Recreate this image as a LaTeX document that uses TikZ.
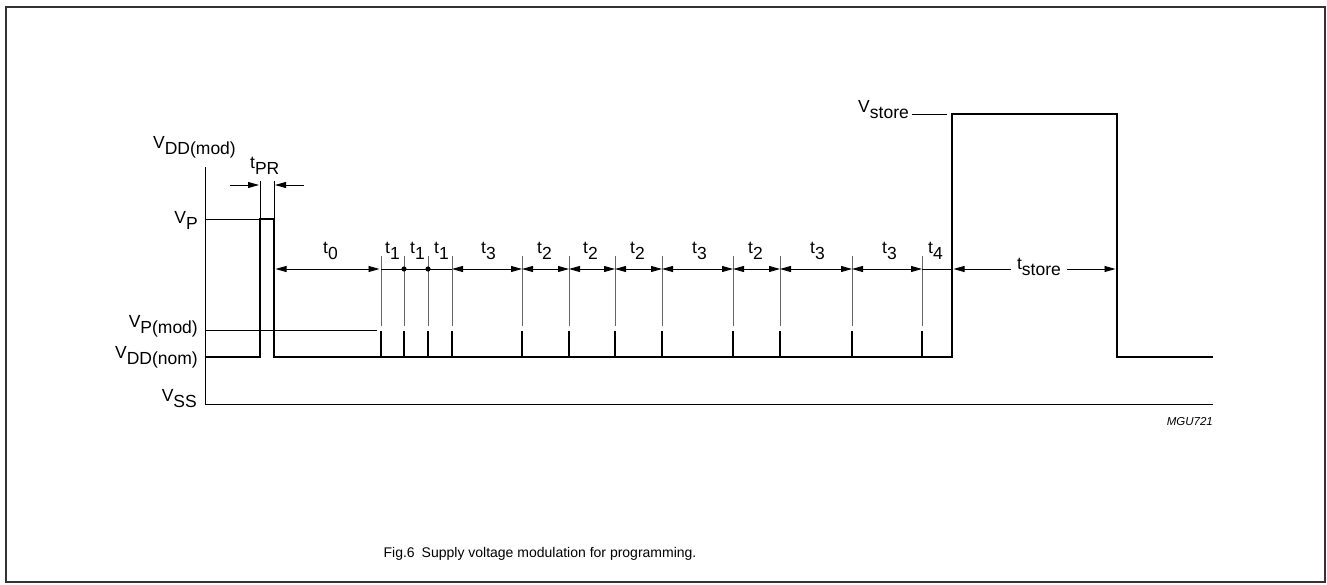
\documentclass[tikz,border=0pt]{standalone}
\usepackage{fontspec}
\setmainfont{Liberation Sans}
\usetikzlibrary{arrows.meta}
\newcommand{\lowsub}[2]{#1\raisebox{-6.5pt}{#2}}

\begin{document}
\begin{tikzpicture}[x=1pt,y=-1pt,font=\fontsize{17.5}{20}\selectfont,
	signal/.style={line width=2.8pt},
	guide/.style={line width=0.9pt},
	extline/.style={line width=0.8pt,black!60},
	span/.style={line width=0.9pt,{Triangle[length=11pt,width=6pt]}-{Triangle[length=11pt,width=6pt]}},
	tip/.style={line width=0.9pt,-{Triangle[length=11pt,width=6pt]}}]
	\useasboundingbox (0,0) rectangle (1327,584);
	%frame
	\draw[line width=2pt,black!80] (6,7) rectangle (1325,582);

	%axis and levels
	\draw[guide] (205,167) -- (205,404) -- (1213,404); %VSS
	\draw[guide] (205,219) -- (260,219); %VP
	\draw[guide] (205,330) -- (377,330); %VP(mod)
	\draw[guide] (912,114) -- (947,114); %Vstore

	%supply voltage
	\draw[signal] (205,357) -- (260,357) -- (260,219) -- (274,219) -- (274,357) -- (952,357) -- (952,114) -- (1117,114) -- (1117,357) -- (1213,357);
	\foreach \x in {381,404,428,452,522,569,615,662,733,780,852,922}{
		\draw[signal] (\x,357) -- (\x,331); %modulation pulse
		\draw[extline] (\x,326) -- (\x,256);
	}

	%tPR
	\draw[guide] (260,181) -- (260,218);
	\draw[guide] (274,181) -- (274,218);
	\draw[tip] (230,185) -- (259,185);
	\draw[tip] (304,185) -- (275,185);

	%time intervals
	\draw[span] (275.5,269) -- (379.5,269); %t0
	\draw[guide] (381,269) -- (452,269); %t1
	\fill (404,269) circle (2.6pt) (428,269) circle (2.6pt);
	\draw[span] (452,269) -- (522,269); %t3
	\draw[span] (522,269) -- (569,269); %t2
	\draw[span] (569,269) -- (615,269); %t2
	\draw[span] (615,269) -- (662,269); %t2
	\draw[span] (662,269) -- (733,269); %t3
	\draw[span] (733,269) -- (780,269); %t2
	\draw[span] (780,269) -- (852,269); %t3
	\draw[span] (852,269) -- (922,269); %t3
	\draw[guide] (922,269) -- (951,269); %t4
	\draw[span] (953.5,269) -- (1115.5,269); %tstore

	%level labels
	\node[anchor=base east,inner sep=0pt] (vddmod) at (236,148) {\lowsub{V}{DD(mod)}};
	\node[anchor=base east,inner sep=0pt] (vp) at (198,223) {\lowsub{V}{P}};
	\node[anchor=base east,inner sep=0pt] (vpmod) at (198,327) {\lowsub{V}{P(mod)}};
	\node[anchor=base east,inner sep=0pt] (vddnom) at (198,358) {\lowsub{V}{DD(nom)}};
	\node[anchor=base east,inner sep=0pt] (vss) at (197,401) {\lowsub{V}{SS}};
	\node[anchor=base east,inner sep=0pt] (vstore) at (909,112) {\lowsub{V}{store}};

	%interval labels
	\node[anchor=base west,inner sep=0pt] (tpr) at (250,168) {\lowsub{t}{PR}};
	\node[anchor=base west,inner sep=0pt] (tzero) at (323,253) {\lowsub{t}{0}};
	\node[anchor=base west,inner sep=0pt] (tonea) at (385,253) {\lowsub{t}{1}};
	\node[anchor=base west,inner sep=0pt] (toneb) at (410,253) {\lowsub{t}{1}};
	\node[anchor=base west,inner sep=0pt] (tonec) at (434,253) {\lowsub{t}{1}};
	\node[anchor=base west,inner sep=0pt] (tthreea) at (481,253) {\lowsub{t}{3}};
	\node[anchor=base west,inner sep=0pt] (ttwoa) at (537,253) {\lowsub{t}{2}};
	\node[anchor=base west,inner sep=0pt] (ttwob) at (583,253) {\lowsub{t}{2}};
	\node[anchor=base west,inner sep=0pt] (ttwoc) at (630,253) {\lowsub{t}{2}};
	\node[anchor=base west,inner sep=0pt] (tthreeb) at (692,253) {\lowsub{t}{3}};
	\node[anchor=base west,inner sep=0pt] (ttwod) at (748,253) {\lowsub{t}{2}};
	\node[anchor=base west,inner sep=0pt] (tthreec) at (810,253) {\lowsub{t}{3}};
	\node[anchor=base west,inner sep=0pt] (tthreed) at (882,253) {\lowsub{t}{3}};
	\node[anchor=base west,inner sep=0pt] (tfour) at (928,253) {\lowsub{t}{4}};
	\node[anchor=base,fill=white,inner xsep=6pt,inner ysep=1pt] (tstore) at (1039,269) {\lowsub{t}{store}};

	%code and caption
	\node[anchor=base east,inner sep=0pt,font=\fontsize{11.5}{13}\selectfont\itshape] (code) at (1213,425) {MGU721};
	\node[anchor=base,inner sep=0pt,font=\fontsize{14}{16}\selectfont] (caption) at (540,557) {Fig.6\hspace{0.5em}Supply voltage modulation for programming.};
\end{tikzpicture}
\end{document}
